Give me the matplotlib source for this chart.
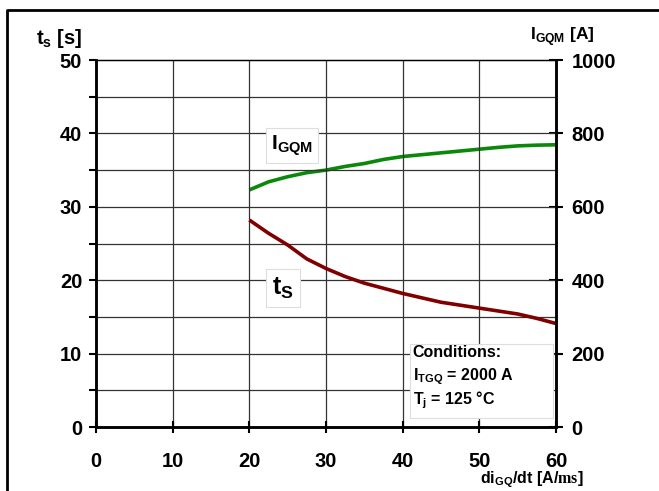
import matplotlib
matplotlib.use('Agg')
import matplotlib.pyplot as plt
from matplotlib.lines import Line2D
from matplotlib.patches import Rectangle

plt.rcParams['font.family'] = 'Liberation Sans'
plt.rcParams['font.weight'] = 'bold'
plt.rcParams['mathtext.fontset'] = 'custom'
plt.rcParams['mathtext.rm'] = 'Liberation Serif'
plt.rcParams['mathtext.bf'] = 'Liberation Sans:bold'

# data
di_dt = [20, 22.5, 25, 27.5, 30, 32.5, 35, 37.5, 40, 42.5, 45, 47.5, 50, 52.5, 55, 57.5, 60]
t_s = [28.2, 26.4, 24.8, 22.9, 21.6, 20.5, 19.6, 18.9, 18.2, 17.6, 17.0, 16.6, 16.2, 15.8, 15.4, 14.8, 14.1]
i_gqm = [646, 668, 682, 693, 700, 710, 718, 729, 737, 742, 747, 752, 757, 762, 766, 768, 769]

x_ticks = [0, 10, 20, 30, 40, 50, 60]
ts_ticks = [0, 10, 20, 30, 40, 50]
ig_ticks = [0, 200, 400, 600, 800, 1000]

fig = plt.figure(figsize=(6.59, 4.91), dpi=100)
ax = fig.add_axes([0.1457, 0.1303, 0.698, 0.7475])
ax2 = ax.twinx()

ax.set_xlim(0, 60)
ax.set_ylim(0, 50)
ax2.set_ylim(0, 1000)

# grid
for gx in range(10, 60, 10):
    ax.axvline(gx, color='#333333', lw=0.9, zorder=0)
for gy in range(5, 50, 5):
    ax.axhline(gy, color='#333333', lw=0.9, zorder=0)

ax2.plot(di_dt, i_gqm, color='#0a880a', lw=2.6, solid_capstyle='butt')
ax.plot(di_dt, t_s, color='#800000', lw=2.6, solid_capstyle='butt')

for a in (ax, ax2):
    a.spines['top'].set_linewidth(0.9)
    for s in ('left', 'right', 'bottom'):
        a.spines[s].set_linewidth(1.8)

ax.set_xticks(x_ticks)
ax.set_yticks(ts_ticks)
ax.set_yticks(range(5, 50, 10), minor=True)
ax.tick_params(axis='y', direction='out', length=5, width=1.5, pad=5, labelsize=14.5)
ax.tick_params(axis='y', which='minor', direction='out', length=5, width=1.5)
ax.tick_params(axis='x', direction='inout', length=8, width=1.5, pad=14, labelsize=14.5)
ax2.set_yticks(ig_ticks)
ax2.tick_params(axis='y', direction='inout', length=10, width=1.5, pad=6, labelsize=14.5)

for lab in ax.get_xticklabels() + ax.get_yticklabels() + ax2.get_yticklabels():
    lab.set_fontweight('bold')

ax.set_zorder(ax2.get_zorder() + 1)
ax.patch.set_visible(False)

# curve labels
box = dict(boxstyle='square,pad=0.25', fc='white', ec='#dddddd', lw=0.8)
ax.text(25.6, 38.4, r'I$_{\mathbf{GQM}}$', fontsize=15, ha='center', va='center', bbox=box)
ax.text(24.4, 18.9, r't$_{\mathbf{S}}$', fontsize=18, ha='center', va='center', bbox=box)

# conditions box
ax.add_patch(Rectangle((40.9, 1.2), 18.7, 10.1, fc='white', ec='#dddddd', lw=0.8, zorder=3))
ax.text(41.3, 10.1, 'Conditions:', fontsize=11.5, va='center', zorder=4)
ax.text(41.3, 6.8, r'I$_{\mathbf{TGQ}}$ = 2000 A', fontsize=11.5, va='center', zorder=4)
ax.text(41.3, 3.6, r'T$_{\mathbf{j}}$ = 125 °C', fontsize=11.5, va='center', zorder=4)

# axis titles
fig.text(36 / 659, 1 - 44 / 491, r't$_{\mathbf{s}}$ [s]', fontsize=14.5)
fig.text(530 / 659, 1 - 40 / 491, r'I$_{\mathbf{GQM}}$ [A]', fontsize=12.5)
fig.text(480 / 659, 1 - 483 / 491, r'di$_{\mathbf{GQ}}$/dt [A/$\mathrm{ms}$]', fontsize=11.5)

# outer frame
fig.add_artist(Line2D([7 / 659, 7 / 659, 1.0], [0.0, 1 - 10 / 491, 1 - 10 / 491],
                      color='black', lw=2))

fig.savefig('out.png', dpi=100)
